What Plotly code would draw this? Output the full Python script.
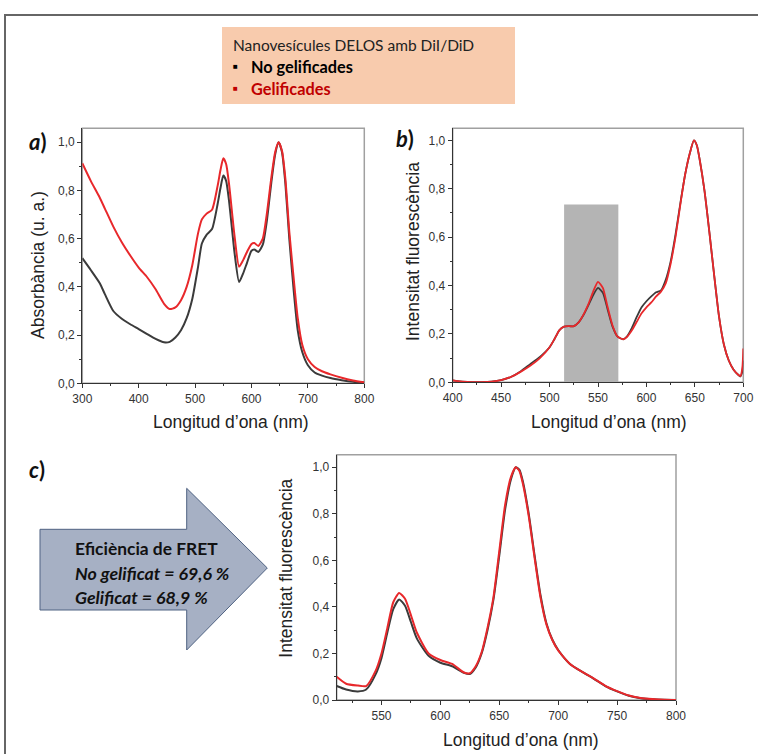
import plotly.graph_objects as go

# ---------------- data ----------------
wl_abs = [300, 315, 331, 340, 355, 370, 385, 400, 415, 430, 445, 455, 465, 475, 485, 495,
          505, 512, 520, 530, 540, 545, 550, 555, 560, 565, 570, 578, 585, 592, 600, 605,
          612, 620, 627, 635, 642, 648, 654, 660, 667, 675, 682, 690, 700, 712, 725, 740,
          760, 780, 800]
abs_no_gel = [0.519, 0.47, 0.415, 0.37, 0.30, 0.268, 0.245, 0.225, 0.204, 0.184, 0.17, 0.172,
              0.19, 0.22, 0.27, 0.35, 0.48, 0.58, 0.615, 0.64, 0.745, 0.81, 0.862, 0.84, 0.76,
              0.65, 0.54, 0.42, 0.455, 0.50, 0.55, 0.555, 0.545, 0.575, 0.67, 0.83, 0.95, 1.0,
              0.96, 0.83, 0.60, 0.38, 0.22, 0.13, 0.075, 0.045, 0.032, 0.022, 0.013, 0.006, 0.002]
abs_gel = [0.913, 0.84, 0.77, 0.725, 0.65, 0.585, 0.53, 0.48, 0.44, 0.39, 0.33, 0.308,
           0.315, 0.345, 0.40, 0.49, 0.62, 0.68, 0.703, 0.72, 0.82, 0.885, 0.934, 0.91, 0.83,
           0.72, 0.61, 0.484, 0.51, 0.545, 0.578, 0.582, 0.57, 0.60, 0.70, 0.85, 0.96, 1.0,
           0.965, 0.85, 0.63, 0.43, 0.27, 0.16, 0.10, 0.068, 0.05, 0.037, 0.023, 0.012, 0.004]

wl_fl_b = [400, 405, 410, 420, 430, 440, 450, 460, 470, 480, 490, 500, 505, 510, 515, 520,
           525, 530, 535, 540, 545, 550, 555, 560, 565, 570, 576, 580, 585, 590, 595, 600,
           605, 610, 615, 620, 625, 630, 635, 640, 645, 649, 652, 655, 660, 665, 670, 675,
           680, 685, 690, 695, 697, 699, 700]
fl_b_no_gel = [0.008, 0.005, 0.003, 0.001, 0.001, 0.003, 0.009, 0.022, 0.045, 0.075, 0.105,
               0.145, 0.178, 0.215, 0.23, 0.232, 0.232, 0.248, 0.278, 0.318, 0.36, 0.39, 0.37,
               0.30, 0.23, 0.19, 0.178, 0.19, 0.225, 0.27, 0.31, 0.335, 0.355, 0.372, 0.38,
               0.425, 0.50, 0.61, 0.74, 0.86, 0.95, 1.0, 0.98, 0.92, 0.79, 0.62, 0.44, 0.27,
               0.155, 0.09, 0.052, 0.03, 0.024, 0.045, 0.09]
fl_b_gel = [0.008, 0.005, 0.003, 0.001, 0.001, 0.003, 0.009, 0.022, 0.043, 0.068, 0.10,
            0.145, 0.178, 0.215, 0.23, 0.232, 0.232, 0.248, 0.28, 0.322, 0.375, 0.415, 0.39,
            0.31, 0.235, 0.19, 0.178, 0.188, 0.215, 0.25, 0.285, 0.31, 0.33, 0.355, 0.375,
            0.41, 0.49, 0.60, 0.735, 0.86, 0.95, 1.0, 0.98, 0.92, 0.79, 0.62, 0.44, 0.27,
            0.155, 0.09, 0.052, 0.03, 0.026, 0.06, 0.14]

wl_fl_c = [512, 520, 530, 537, 545, 550, 555, 560, 565, 570, 575, 580, 590, 600, 610, 620,
           625, 630, 635, 640, 645, 650, 655, 660, 664, 667, 670, 675, 680, 685, 690, 695,
           700, 710, 720, 730, 740, 750, 760, 770, 780, 790, 800]
fl_c_no_gel = [0.06, 0.045, 0.037, 0.045, 0.11, 0.18, 0.29, 0.39, 0.432, 0.405, 0.335, 0.265,
               0.19, 0.16, 0.145, 0.117, 0.112, 0.14, 0.20, 0.30, 0.43, 0.62, 0.82, 0.95, 1.0,
               0.99, 0.94, 0.80, 0.62, 0.45, 0.33, 0.26, 0.215, 0.155, 0.122, 0.092, 0.06,
               0.037, 0.018, 0.008, 0.003, 0.001, 0.0]
fl_c_gel = [0.10, 0.07, 0.062, 0.06, 0.125, 0.20, 0.31, 0.42, 0.46, 0.435, 0.365, 0.29,
            0.20, 0.172, 0.155, 0.118, 0.115, 0.145, 0.205, 0.31, 0.44, 0.64, 0.84, 0.96, 1.0,
            0.985, 0.93, 0.79, 0.61, 0.44, 0.325, 0.258, 0.213, 0.155, 0.122, 0.093, 0.061,
            0.038, 0.019, 0.009, 0.004, 0.001, 0.0]

band_b = [515, 571, 0.735]   # excitation band shown in panel b

y_ticks = [0.0, 0.2, 0.4, 0.6, 0.8, 1.0]
y_ticklabels = ["0,0", "0,2", "0,4", "0,6", "0,8", "1,0"]

label_title = "Nanovesícules DELOS amb DiI/DiD"
label_no = "No gelificades"
label_gel = "Gelificades"
fret_title = "Eficiència de FRET"
fret_no = "No gelificat = 69,6 %"
fret_gel = "Gelificat = 68,9 %"
xtitle = "Longitud d’ona (nm)"

# ---------------- layout helpers ----------------
W, H = 758, 754
def px(x):
    return x / W
def py(y):
    return 1 - y / H

BLACK = "#3b3b3b"
RED = "#e8282b"
AXF = "Liberation Sans, Arial, sans-serif"
TXF = "Lato, Open Sans, sans-serif"

fig = go.Figure()

def add_pair(x, yb, yr, xa, ya, w):
    fig.add_trace(go.Scatter(x=x, y=yb, mode="lines", line=dict(color=BLACK, width=w, shape="spline", smoothing=0.6),
                             xaxis=xa, yaxis=ya, showlegend=False, hoverinfo="skip"))
    fig.add_trace(go.Scatter(x=x, y=yr, mode="lines", line=dict(color=RED, width=w, shape="spline", smoothing=0.6),
                             xaxis=xa, yaxis=ya, showlegend=False, hoverinfo="skip"))

add_pair(wl_abs, abs_no_gel, abs_gel, "x", "y", 2)
add_pair(wl_fl_b, fl_b_no_gel, fl_b_gel, "x2", "y2", 1.8)
add_pair(wl_fl_c, fl_c_no_gel, fl_c_gel, "x3", "y3", 2)

def xax(dom, rng, dtick, minor, anchor):
    return dict(domain=dom, range=rng, dtick=dtick, tick0=0, anchor=anchor, automargin=False,
                showline=True, linecolor="#333", linewidth=1.3, mirror=False,
                ticks="outside", ticklen=4, tickwidth=1, tickcolor="#333",
                minor=dict(ticks="outside", ticklen=2, dtick=minor, tickcolor="#333"),
                tickfont=dict(family=AXF, size=12, color="#333"),
                showgrid=False, zeroline=False)

def yax(dom, rng, anchor):
    return dict(domain=dom, range=rng, tickvals=y_ticks, ticktext=y_ticklabels, anchor=anchor,
                automargin=False,
                showline=True, linecolor="#333", linewidth=1.3, mirror=False,
                ticks="outside", ticklen=4, tickwidth=1, tickcolor="#333",
                minor=dict(ticks="outside", ticklen=2, dtick=0.1, tick0=0, tickcolor="#333"),
                tickfont=dict(family=AXF, size=12, color="#333"),
                showgrid=False, zeroline=False)

fig.update_layout(
    width=W, height=H, margin=dict(l=0, r=0, t=0, b=0, pad=0, autoexpand=False),
    paper_bgcolor="white", plot_bgcolor="white", separators=",.",
    xaxis=xax([px(82.3), px(364.3)], [300, 800], 100, 50, "y"),
    yaxis=yax([py(383.3), py(128.3)], [0, 1.058], "x"),
    xaxis2=xax([px(452.7), px(743.3)], [400, 700], 50, 25, "y2"),
    yaxis2=yax([py(382.3), py(128.3)], [0, 1.05], "x2"),
    xaxis3=xax([px(336.7), px(676)], [512, 800], 50, 25, "y3"),
    yaxis3=yax([py(700), py(454.7)], [0, 1.054], "x3"),
)

shapes = []
# outer border
shapes.append(dict(type="rect", xref="paper", yref="paper", x0=px(5), x1=1.02, y0=-0.02, y1=py(15),
                   line=dict(color="#666", width=2), fillcolor="rgba(0,0,0,0)", layer="below"))
# legend box
shapes.append(dict(type="rect", xref="paper", yref="paper", x0=px(222), x1=px(515), y0=py(104), y1=py(27),
                   line=dict(width=0), fillcolor="#F8CBAD", layer="below"))
# frames of plots (top/right lighter)
for xa, ya in [("x", "y"), ("x2", "y2"), ("x3", "y3")]:
    shapes.append(dict(type="rect", xref=xa + " domain", yref=ya + " domain", x0=0, x1=1, y0=0, y1=1,
                       line=dict(color="#a0a0a0", width=1.5), fillcolor="rgba(0,0,0,0)", layer="below"))
# gray band in b
shapes.append(dict(type="rect", xref="x2", yref="y2", x0=band_b[0], x1=band_b[1], y0=0, y1=band_b[2],
                   line=dict(width=0), fillcolor="#b4b4b4", layer="below"))
# arrow
pts = [(40, 529.3), (186.7, 529.3), (186.7, 488.3), (267.3, 568), (186.7, 650), (186.7, 610), (40, 610)]
path = "M " + " L ".join(f"{px(a):.5f},{py(b):.5f}" for a, b in pts) + " Z"
shapes.append(dict(type="path", xref="paper", yref="paper", path=path,
                   fillcolor="#A6B0C4", line=dict(color="#4f6282", width=1), layer="below"))
fig.update_layout(shapes=shapes)

ann = []
def text(x, y, t, size, color="#222", family=AXF, xanchor="center", yanchor="middle", angle=0):
    ann.append(dict(x=px(x), y=py(y), xref="paper", yref="paper", text=t, showarrow=False,
                    font=dict(family=family, size=size, color=color), xanchor=xanchor, yanchor=yanchor,
                    textangle=angle))

# axis titles
text(230.8, 421.7, xtitle, 17.5)
text(609, 421.7, xtitle, 17.5)
text(520.8, 740, xtitle, 17.5)
text(38, 265, "Absorbància (u. a.)", 17.5, angle=-90)
text(413, 252, "Intensitat fluorescència", 17.5, angle=-90)
text(285.7, 568, "Intensitat fluorescència", 17.5, angle=-90)
# panel labels
text(37.5, 141, "<b><i>a</i>)</b>", 22, color="#111", family=TXF)
text(405, 139, "<b><i>b</i>)</b>", 22, color="#111", family=TXF)
text(37, 470, "<b><i>c</i>)</b>", 22, color="#111", family=TXF)
# legend box texts
text(231, 45, label_title, 15.5, family=TXF, xanchor="left")
text(231, 66, "■", 8, color="#000", family=AXF, xanchor="left")
text(249, 66, "<b>" + label_no + "</b>", 16.3, color="#000", family=TXF, xanchor="left")
text(231, 88, "■", 8, color="#C00000", family=AXF, xanchor="left")
text(249, 88, "<b>" + label_gel + "</b>", 16.3, color="#C00000", family=TXF, xanchor="left")
# arrow texts
text(72.7, 548.3, "<b>" + fret_title + "</b>", 17.4, color="#111", family=TXF, xanchor="left")
text(72.7, 573.3, "<b><i>" + fret_no + "</i></b>", 17.8, color="#111", family=TXF, xanchor="left")
text(72.7, 596.7, "<b><i>" + fret_gel + "</i></b>", 17.8, color="#111", family=TXF, xanchor="left")
fig.update_layout(annotations=ann)

fig.write_html("out.html", config={"displayModeBar": False},
               post_script="document.body.style.margin='0';document.body.style.overflow='hidden';")
